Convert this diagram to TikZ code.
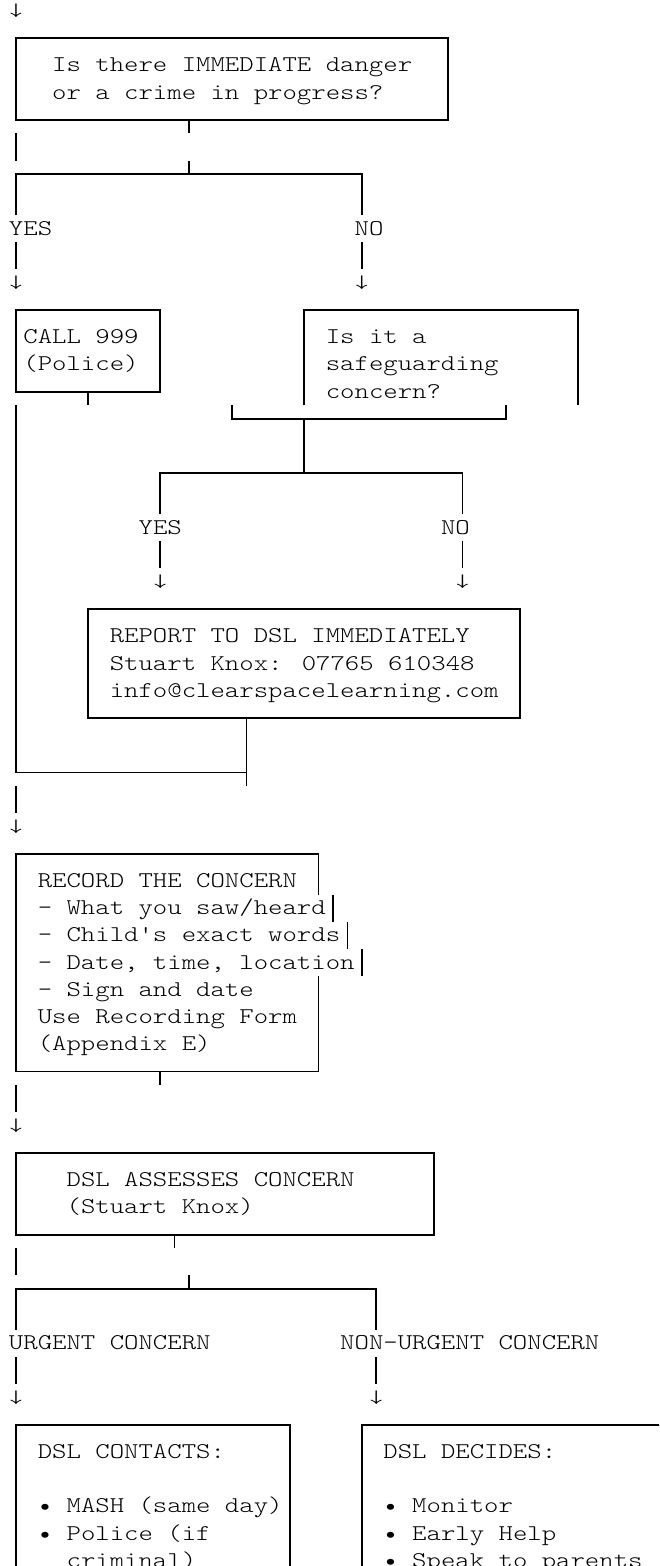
\documentclass[tikz,border=0pt]{standalone}
\usepackage{graphicx}
\newcommand\flowfont{\fontsize{22.5}{27}\ttfamily\fontseries{l}\selectfont}
\tikzset{
  declare function={
    colx(\c)=16.2+14.4*\c;   % centre of a character column
    cols(\c)=9+14.4*\c;      % left edge of a character column
    rowt(\r)=-2.5+27.19*\r;  % top of a text row
    rowh(\r)=11.1+27.19*\r;  % level of a horizontal rule in a row
    rowb(\r)=17.5+27.19*\r;  % baseline of a row
  },
  ln/.style={line width=1.7pt, line cap=butt, line join=miter},
  txt/.style={anchor=base west, inner sep=0pt, outer sep=0pt, font=\flowfont},
}
% text placed on the character grid: name, column, row, text
\newcommand\flowtext[4]{\node[txt] (#1) at ({cols(#2)},{rowb(#3)}) {\scalebox{1.219}[1]{#4}};}
\begin{document}
\begin{tikzpicture}[x=1pt,y=-1pt]
\fill[white] (0,0) rectangle (659,1566);
\useasboundingbox (0,0) rectangle (659,1566);
\clip (0,0) rectangle (659,1566);

% ---------- first question ----------
\flowtext{a0}{0}{0}{↓}
\draw[ln] ({colx(0)},{rowh(1)}) rectangle ({colx(30)},{rowh(4)});
\flowtext{q1a}{3}{2}{Is there IMMEDIATE danger}
\flowtext{q1b}{3}{3}{or a crime in progress?}
\coordinate (q1out) at ({colx(12)},{rowh(4)});
\draw[ln] (q1out) -- ({colx(12)},{rowt(5)});
\draw[ln] ({colx(0)},{rowt(5)}) -- ({colx(0)},{rowt(6)});
\coordinate (f1) at ({colx(12)},{rowh(6)});
\draw[ln] ({colx(12)},{rowt(6)}) -- (f1);
\draw[ln] ({colx(0)},{rowt(8)}) -- ({colx(0)},{rowh(6)}) -- ({colx(24)},{rowh(6)}) -- ({colx(24)},{rowt(8)});
\flowtext{y1}{0}{8}{YES}
\flowtext{n1}{24}{8}{NO}
\draw[ln] ({colx(0)},{rowt(9)}) -- ({colx(0)},{rowt(10)});
\draw[ln] ({colx(24)},{rowt(9)}) -- ({colx(24)},{rowt(10)});
\flowtext{a1}{0}{10}{↓}
\flowtext{a2}{24}{10}{↓}

% ---------- call 999 ----------
\draw[ln] ({colx(0)},{rowh(11)}) rectangle ({colx(10)},{rowh(14)});
\flowtext{c1}{1}{12}{CALL 999}
\flowtext{c2}{1}{13}{(Police)}
\draw[ln] ({colx(5)},{rowh(14)}) -- ({colx(5)},{rowt(15)});

% ---------- second question ----------
\draw[ln] ({colx(20)},{rowt(15)}) -- ({colx(20)},{rowh(11)}) -- ({colx(39)},{rowh(11)}) -- ({colx(39)},{rowt(15)});
\flowtext{q2a}{22}{12}{Is it a}
\flowtext{q2b}{22}{13}{safeguarding}
\flowtext{q2c}{22}{14}{concern?}
\draw[ln] ({colx(15)},{rowt(15)}) -- ({colx(15)},{rowh(15)}) -- ({colx(34)},{rowh(15)}) -- ({colx(34)},{rowt(15)});
\draw[ln] ({colx(20)},{rowh(15)}) -- ({colx(20)},{rowh(17)});
\draw[ln] ({colx(10)},{rowt(19)}) -- ({colx(10)},{rowh(17)}) -- ({colx(31)},{rowh(17)}) -- ({colx(31)},{rowt(19)});
\flowtext{y2}{9}{19}{YES}
\flowtext{n2}{30}{19}{NO}
\draw[ln] ({colx(10)},{rowt(20)}) -- ({colx(10)},{rowt(21)});
\draw[ln] ({colx(31)},{rowt(20)}) -- ({colx(31)},{rowt(21)});
\flowtext{a3}{10}{21}{↓}
\flowtext{a4}{31}{21}{↓}

% ---------- report to DSL ----------
\draw[ln] ({colx(5)},{rowh(22)}) rectangle ({colx(35)},{rowh(26)});
\flowtext{r1}{7}{23}{REPORT TO DSL IMMEDIATELY}
\flowtext{r2}{7}{24}{Stuart Knox: 07765 610348}
\flowtext{r3}{7}{25}{info@clearspacelearning.com}
\coordinate (j1) at ({colx(16)},{rowh(28)});
\draw[ln] ({colx(16)},{rowh(26)}) -- ({colx(16)},{rowt(29)});
\draw[ln] ({colx(0)},{rowt(15)}) -- ({colx(0)},{rowh(28)}) -- (j1);
\draw[ln] ({colx(0)},{rowt(29)}) -- ({colx(0)},{rowt(30)});
\flowtext{a5}{0}{30}{↓}

% ---------- record the concern ----------
\draw[ln] ({colx(21)},{rowh(31)}) -- ({colx(0)},{rowh(31)}) -- ({colx(0)},{rowh(39)}) -- ({colx(21)},{rowh(39)});
\draw[ln] ({colx(21)},{rowh(31)}) -- ({colx(21)},{rowt(33)});
\draw[ln] ({colx(22)},{rowt(33)}) -- ({colx(22)},{rowt(34)});
\draw[ln] ({colx(23)},{rowt(34)}) -- ({colx(23)},{rowt(35)});
\draw[ln] ({colx(24)},{rowt(35)}) -- ({colx(24)},{rowt(36)});
\draw[ln] ({colx(21)},{rowt(36)}) -- ({colx(21)},{rowh(39)});
\flowtext{k1}{2}{32}{RECORD THE CONCERN}
\flowtext{k2}{2}{33}{- What you saw/heard}
\flowtext{k3}{2}{34}{- Child's exact words}
\flowtext{k4}{2}{35}{- Date, time, location}
\flowtext{k5}{2}{36}{- Sign and date}
\flowtext{k6}{2}{37}{Use Recording Form}
\flowtext{k7}{2}{38}{(Appendix E)}
\draw[ln] ({colx(10)},{rowh(39)}) -- ({colx(10)},{rowt(40)});
\draw[ln] ({colx(0)},{rowt(40)}) -- ({colx(0)},{rowt(41)});
\flowtext{a6}{0}{41}{↓}

% ---------- DSL assesses ----------
\draw[ln] ({colx(0)},{rowh(42)}) rectangle ({colx(29)},{rowh(45)});
\flowtext{d1}{4}{43}{DSL ASSESSES CONCERN}
\flowtext{d2}{4}{44}{(Stuart Knox)}
\draw[ln] ({colx(11)},{rowh(45)}) -- ({colx(11)},{rowt(46)});
\draw[ln] ({colx(0)},{rowt(46)}) -- ({colx(0)},{rowt(47)});
\draw[ln] ({colx(12)},{rowt(47)}) -- ({colx(12)},{rowh(47)});
\draw[ln] ({colx(0)},{rowt(49)}) -- ({colx(0)},{rowh(47)}) -- ({colx(25)},{rowh(47)}) -- ({colx(25)},{rowt(49)});
\flowtext{u1}{0}{49}{URGENT CONCERN}
\flowtext{u2}{23}{49}{NON-URGENT CONCERN}
\draw[ln] ({colx(0)},{rowt(50)}) -- ({colx(0)},{rowt(51)});
\draw[ln] ({colx(25)},{rowt(50)}) -- ({colx(25)},{rowt(51)});
\flowtext{a7}{0}{51}{↓}
\flowtext{a8}{25}{51}{↓}

% ---------- outcomes ----------
\draw[ln] ({colx(0)},1600) -- ({colx(0)},{rowh(52)}) -- ({colx(19)},{rowh(52)}) -- ({colx(19)},1600);
\draw[ln] ({colx(24)},1600) -- ({colx(24)},{rowh(52)}) -- (680,{rowh(52)});
\flowtext{o1}{2}{53}{DSL CONTACTS:}
\flowtext{o2}{2}{55}{•}
\flowtext{o3}{4}{55}{MASH (same day)}
\flowtext{o4}{2}{56}{•}
\flowtext{o5}{4}{56}{Police (if}
\flowtext{o6}{4}{57}{criminal)}
\flowtext{p1}{26}{53}{DSL DECIDES:}
\flowtext{p2}{26}{55}{•}
\flowtext{p3}{28}{55}{Monitor}
\flowtext{p4}{26}{56}{•}
\flowtext{p5}{28}{56}{Early Help}
\flowtext{p6}{26}{57}{•}
\flowtext{p7}{28}{57}{Speak to parents}
\end{tikzpicture}
\end{document}
